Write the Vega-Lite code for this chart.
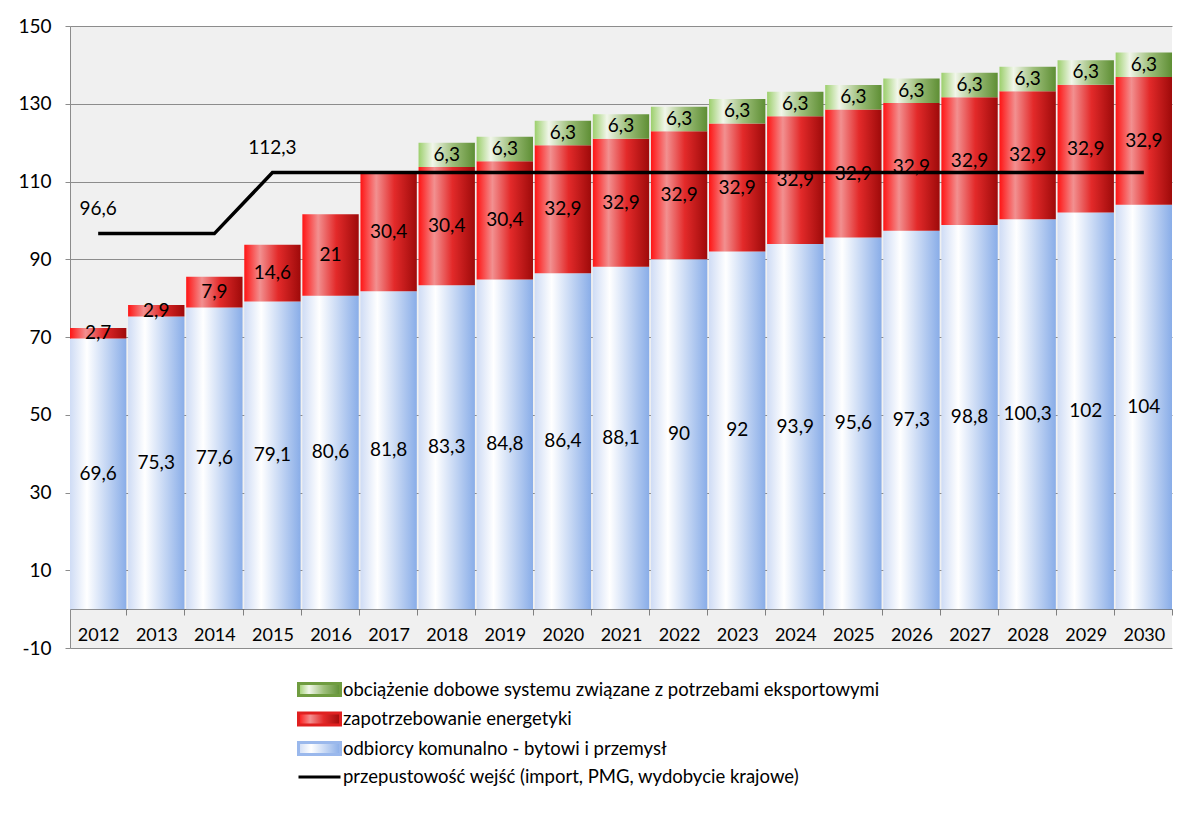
{
  "$schema": "https://vega.github.io/schema/vega-lite/v6.json",
  "width": 1102,
  "height": 622,
  "autosize": "none",
  "padding": {"left": 70, "top": 26, "right": 19, "bottom": 174},
  "background": "white",
  "config": {
    "font": "Lato",
    "locale": {"number": {"decimal": ",", "thousands": " ", "grouping": [3], "currency": ["", " zł"], "minus": "-"}},
    "view": {"fill": "#f0f0f0", "stroke": null},
    "text": {"font": "Lato"}
  },
  "datasets": {
    "bars": [
      {"year": "2012", "key": "komunalne", "value": 69.6},
      {"year": "2013", "key": "komunalne", "value": 75.3},
      {"year": "2014", "key": "komunalne", "value": 77.6},
      {"year": "2015", "key": "komunalne", "value": 79.1},
      {"year": "2016", "key": "komunalne", "value": 80.6},
      {"year": "2017", "key": "komunalne", "value": 81.8},
      {"year": "2018", "key": "komunalne", "value": 83.3},
      {"year": "2019", "key": "komunalne", "value": 84.8},
      {"year": "2020", "key": "komunalne", "value": 86.4},
      {"year": "2021", "key": "komunalne", "value": 88.1},
      {"year": "2022", "key": "komunalne", "value": 90},
      {"year": "2023", "key": "komunalne", "value": 92},
      {"year": "2024", "key": "komunalne", "value": 93.9},
      {"year": "2025", "key": "komunalne", "value": 95.6},
      {"year": "2026", "key": "komunalne", "value": 97.3},
      {"year": "2027", "key": "komunalne", "value": 98.8},
      {"year": "2028", "key": "komunalne", "value": 100.3},
      {"year": "2029", "key": "komunalne", "value": 102},
      {"year": "2030", "key": "komunalne", "value": 104},
      {"year": "2012", "key": "energetyka", "value": 2.7},
      {"year": "2013", "key": "energetyka", "value": 2.9},
      {"year": "2014", "key": "energetyka", "value": 7.9},
      {"year": "2015", "key": "energetyka", "value": 14.6},
      {"year": "2016", "key": "energetyka", "value": 21},
      {"year": "2017", "key": "energetyka", "value": 30.4},
      {"year": "2018", "key": "energetyka", "value": 30.4},
      {"year": "2019", "key": "energetyka", "value": 30.4},
      {"year": "2020", "key": "energetyka", "value": 32.9},
      {"year": "2021", "key": "energetyka", "value": 32.9},
      {"year": "2022", "key": "energetyka", "value": 32.9},
      {"year": "2023", "key": "energetyka", "value": 32.9},
      {"year": "2024", "key": "energetyka", "value": 32.9},
      {"year": "2025", "key": "energetyka", "value": 32.9},
      {"year": "2026", "key": "energetyka", "value": 32.9},
      {"year": "2027", "key": "energetyka", "value": 32.9},
      {"year": "2028", "key": "energetyka", "value": 32.9},
      {"year": "2029", "key": "energetyka", "value": 32.9},
      {"year": "2030", "key": "energetyka", "value": 32.9},
      {"year": "2018", "key": "eksport", "value": 6.3},
      {"year": "2019", "key": "eksport", "value": 6.3},
      {"year": "2020", "key": "eksport", "value": 6.3},
      {"year": "2021", "key": "eksport", "value": 6.3},
      {"year": "2022", "key": "eksport", "value": 6.3},
      {"year": "2023", "key": "eksport", "value": 6.3},
      {"year": "2024", "key": "eksport", "value": 6.3},
      {"year": "2025", "key": "eksport", "value": 6.3},
      {"year": "2026", "key": "eksport", "value": 6.3},
      {"year": "2027", "key": "eksport", "value": 6.3},
      {"year": "2028", "key": "eksport", "value": 6.3},
      {"year": "2029", "key": "eksport", "value": 6.3},
      {"year": "2030", "key": "eksport", "value": 6.3}
    ],
    "cap": [
      {"year": "2012", "capacity": 96.6},
      {"year": "2013", "capacity": 96.6},
      {"year": "2014", "capacity": 96.6},
      {"year": "2015", "capacity": 112.3},
      {"year": "2016", "capacity": 112.3},
      {"year": "2017", "capacity": 112.3},
      {"year": "2018", "capacity": 112.3},
      {"year": "2019", "capacity": 112.3},
      {"year": "2020", "capacity": 112.3},
      {"year": "2021", "capacity": 112.3},
      {"year": "2022", "capacity": 112.3},
      {"year": "2023", "capacity": 112.3},
      {"year": "2024", "capacity": 112.3},
      {"year": "2025", "capacity": 112.3},
      {"year": "2026", "capacity": 112.3},
      {"year": "2027", "capacity": 112.3},
      {"year": "2028", "capacity": 112.3},
      {"year": "2029", "capacity": 112.3},
      {"year": "2030", "capacity": 112.3}
    ]
  },
  "encoding": {
    "x": {
      "field": "year",
      "type": "nominal",
      "sort": null,
      "scale": {"paddingInner": 0.03, "paddingOuter": 0},
      "axis": {
        "title": null,
        "labelAngle": 0,
        "offset": -39,
        "domainColor": "#707070",
        "tickColor": "#808080",
        "tickSize": 6,
        "tickBand": "extent",
        "labelFontSize": 18,
        "labelColor": "black",
        "labelPadding": 11,
        "labelFont": "Lato"
      }
    }
  },
  "layer": [
    {
      "data": {"name": "bars"},
      "transform": [
        {"stack": "value", "groupby": ["year"], "sort": [{"field": "key", "order": "descending"}], "as": ["y0", "y1"]},
        {"filter": "datum.key === 'komunalne'"}
      ],
      "mark": {"type": "bar", "fill": {"gradient": "linear", "x1": 0, "y1": 0, "x2": 1, "y2": 0, "stops": [{"offset": 0, "color": "#cfdcf5"}, {"offset": 0.3, "color": "#ffffff"}, {"offset": 1, "color": "#89ade8"}]}},
      "encoding": {
        "y": {
          "field": "y0",
          "type": "quantitative",
          "scale": {"domain": [-10, 150], "nice": false, "zero": false},
          "axis": {
            "title": null,
            "values": [-10, 10, 30, 50, 70, 90, 110, 130, 150],
            "grid": true,
            "gridColor": "#8c8c8c",
            "gridOpacity": 1,
            "domainColor": "#8c8c8c",
            "tickColor": "#8c8c8c",
            "tickSize": 5,
            "labelFontSize": 19,
            "labelColor": "black",
            "labelPadding": 14,
            "labelFont": "Lato",
            "format": "d"
          }
        },
        "y2": {"field": "y1"}
      }
    },
    {
      "data": {"name": "bars"},
      "transform": [
        {"stack": "value", "groupby": ["year"], "sort": [{"field": "key", "order": "descending"}], "as": ["y0", "y1"]},
        {"filter": "datum.key === 'energetyka'"}
      ],
      "mark": {"type": "bar", "fill": {"gradient": "linear", "x1": 0, "y1": 0, "x2": 1, "y2": 0, "stops": [{"offset": 0, "color": "#ff1414"}, {"offset": 0.28, "color": "#f29090"}, {"offset": 0.6, "color": "#e32a2a"}, {"offset": 1, "color": "#9e0a0a"}]}},
      "encoding": {
        "y": {"field": "y0", "type": "quantitative"},
        "y2": {"field": "y1"}
      }
    },
    {
      "data": {"name": "bars"},
      "transform": [
        {"stack": "value", "groupby": ["year"], "sort": [{"field": "key", "order": "descending"}], "as": ["y0", "y1"]},
        {"filter": "datum.key === 'eksport'"}
      ],
      "mark": {"type": "bar", "fill": {"gradient": "linear", "x1": 0, "y1": 0, "x2": 1, "y2": 0, "stops": [{"offset": 0, "color": "#9ccf6c"}, {"offset": 0.25, "color": "#f1f6ea"}, {"offset": 0.6, "color": "#9fc07c"}, {"offset": 1, "color": "#5e8e34"}]}},
      "encoding": {
        "y": {"field": "y0", "type": "quantitative"},
        "y2": {"field": "y1"}
      }
    },
    {
      "data": {"name": "bars"},
      "mark": {"type": "text", "fontSize": 19, "color": "black", "font": "Lato"},
      "encoding": {
        "y": {"field": "value", "type": "quantitative", "stack": "zero", "bandPosition": 0.5},
        "order": {"field": "key", "sort": "descending"},
        "detail": {"field": "key"},
        "text": {"field": "value", "type": "quantitative", "format": ".1~f"}
      }
    },
    {
      "data": {"name": "cap"},
      "mark": {"type": "line", "strokeWidth": 3.5, "interpolate": "linear"},
      "encoding": {
        "y": {"field": "capacity", "type": "quantitative"},
        "color": {
          "datum": "przepustowość wejść (import, PMG, wydobycie krajowe)",
          "type": "nominal",
          "scale": {
            "domain": [
              "obciążenie dobowe systemu związane z potrzebami eksportowymi",
              "zapotrzebowanie energetyki",
              "odbiorcy komunalno - bytowi i przemysł",
              "przepustowość wejść (import, PMG, wydobycie krajowe)"
            ],
            "range": ["#6f9c40", "#e02020", "#9ab8ec", "#000000"]
          },
          "legend": {
            "title": null,
            "orient": "none",
            "legendX": 227,
            "legendY": 652,
            "direction": "vertical",
            "labelFont": "Lato",
            "labelFontSize": 18.5,
            "labelColor": "black",
            "labelLimit": 0,
            "symbolSize": 400,
            "labelOffset": 23,
            "rowPadding": 4.5,
            "symbolOpacity": 1,
            "encoding": {
              "symbols": {
                "shape": {
                  "condition": {"test": "datum.value === 'przepustowość wejść (import, PMG, wydobycie krajowe)'", "value": "M-1,0H3.2"},
                  "value": "M-1,-0.6H3.2V0.6H-1Z"
                },
                "fill": {
                  "condition": [
                    {"test": "datum.value === 'obciążenie dobowe systemu związane z potrzebami eksportowymi'", "value": {"gradient": "linear", "x1": 0, "y1": 0, "x2": 1, "y2": 0, "stops": [{"offset": 0, "color": "#9ccf6c"}, {"offset": 0.25, "color": "#f1f6ea"}, {"offset": 0.6, "color": "#9fc07c"}, {"offset": 1, "color": "#5e8e34"}]}},
                    {"test": "datum.value === 'zapotrzebowanie energetyki'", "value": {"gradient": "linear", "x1": 0, "y1": 0, "x2": 1, "y2": 0, "stops": [{"offset": 0, "color": "#ff1414"}, {"offset": 0.28, "color": "#f29090"}, {"offset": 0.6, "color": "#e32a2a"}, {"offset": 1, "color": "#9e0a0a"}]}},
                    {"test": "datum.value === 'odbiorcy komunalno - bytowi i przemysł'", "value": {"gradient": "linear", "x1": 0, "y1": 0, "x2": 1, "y2": 0, "stops": [{"offset": 0, "color": "#cfdcf5"}, {"offset": 0.3, "color": "#ffffff"}, {"offset": 1, "color": "#89ade8"}]}}
                  ],
                  "value": "transparent"
                },
                "stroke": {
                  "condition": {"test": "datum.value === 'przepustowość wejść (import, PMG, wydobycie krajowe)'", "value": "#000000"},
                  "value": "transparent"
                },
                "strokeWidth": {"value": 3}
              }
            }
          }
        }
      }
    },
    {
      "data": {"name": "cap"},
      "transform": [{"filter": {"field": "year", "oneOf": ["2012", "2015"]}}],
      "mark": {"type": "text", "fontSize": 19, "color": "black", "dy": -25, "font": "Lato"},
      "encoding": {
        "y": {"field": "capacity", "type": "quantitative"},
        "text": {"field": "capacity", "type": "quantitative", "format": ".1~f"}
      }
    }
  ]
}
